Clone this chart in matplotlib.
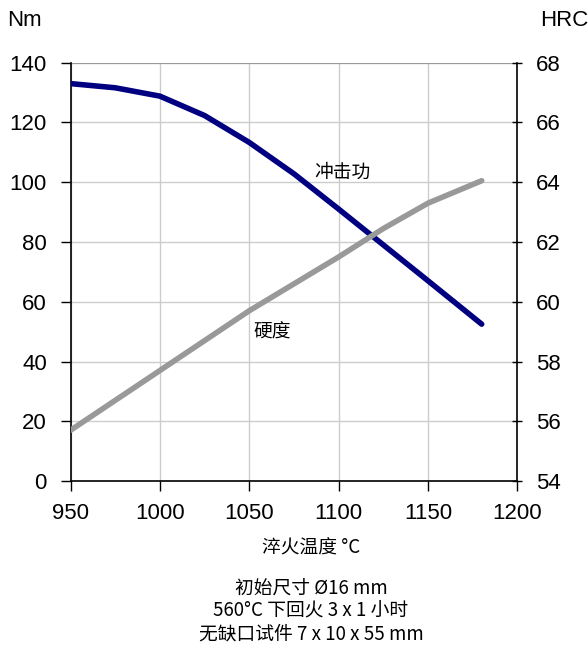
import matplotlib
matplotlib.use('Agg')
import matplotlib.pyplot as plt

plt.rcParams['font.family'] = ['Liberation Sans', 'Noto Sans CJK SC', 'DejaVu Sans']

# quench temperature (deg C)
temps = [950, 975, 1000, 1025, 1050, 1075, 1100, 1125, 1150, 1180]
# impact energy (Nm), left axis
impact = [133, 131.6, 128.8, 122.3, 113.3, 102.8, 91, 79, 67, 52.5]
# hardness (HRC), right axis
hardness = [55.7, 56.7, 57.7, 58.7, 59.7, 60.6, 61.5, 62.45, 63.3, 64.05]

x_ticks = [950, 1000, 1050, 1100, 1150, 1200]
nm_ticks = [0, 20, 40, 60, 80, 100, 120, 140]
hrc_ticks = [54, 56, 58, 60, 62, 64, 66, 68]

notes = ['初始尺寸 Ø16 mm', '560°C 下回火 3 x 1 小时', '无缺口试件 7 x 10 x 55 mm']

fig = plt.figure(figsize=(5.88, 6.55), dpi=100)
ax = fig.add_axes([0.120, 0.2656, 0.760, 0.6387])
ax2 = ax.twinx()

ax.set_xlim(950, 1200)
ax.set_ylim(0, 140)
ax2.set_ylim(54, 68)
ax.set_xticks(x_ticks)
ax.set_yticks(nm_ticks)
ax2.set_yticks(hrc_ticks)

ax.grid(True, color='#cccccc', linewidth=1)
ax.set_axisbelow(True)
ax.spines['top'].set_visible(False)
ax2.spines['top'].set_visible(False)
ax.axhline(140, color='#999999', linewidth=1.5, zorder=1)
ax.spines['right'].set_visible(False)
ax2.spines['left'].set_visible(False)
ax2.spines['bottom'].set_visible(False)
for sp in ['left', 'bottom']:
    ax.spines[sp].set_linewidth(1.2)
ax2.spines['right'].set_linewidth(1.2)

ax.tick_params(axis='y', labelsize=16, length=7, width=1, pad=10)
ax.tick_params(axis='x', labelsize=16, length=7, width=1, pad=9)
ax2.tick_params(axis='y', labelsize=16, length=7, width=1, direction='inout', pad=10)

ax.plot(temps, impact, color='#000080', linewidth=4, solid_capstyle='round',
        solid_joinstyle='round', zorder=3)
ax2.plot(temps, hardness, color='#999999', linewidth=4, solid_capstyle='round',
         solid_joinstyle='round', zorder=3)

cjk = ['Noto Sans CJK SC', 'DejaVu Sans']
ax.text(1102, 103.4, '冲击功', fontsize=13.5, family=cjk, ha='center', va='center')
ax.text(1063, 50, '硬度', fontsize=13.5, family=cjk, ha='center', va='center')

fig.text(24 / 588, 1 - 20 / 655, 'Nm', fontsize=16, ha='center', va='center')
fig.text(564 / 588, 1 - 20 / 655, 'HRC', fontsize=16, ha='center', va='center')

fig.text(311 / 588, 1 - 548 / 655, '淬火温度 °C', fontsize=13.5, family=cjk,
         ha='center', va='center')
for i, line in enumerate(notes):
    fig.text(311 / 588, 1 - (588 + 23 * i) / 655, line, fontsize=13.5, family=cjk,
             ha='center', va='center')

fig.savefig('out.png', dpi=100)
